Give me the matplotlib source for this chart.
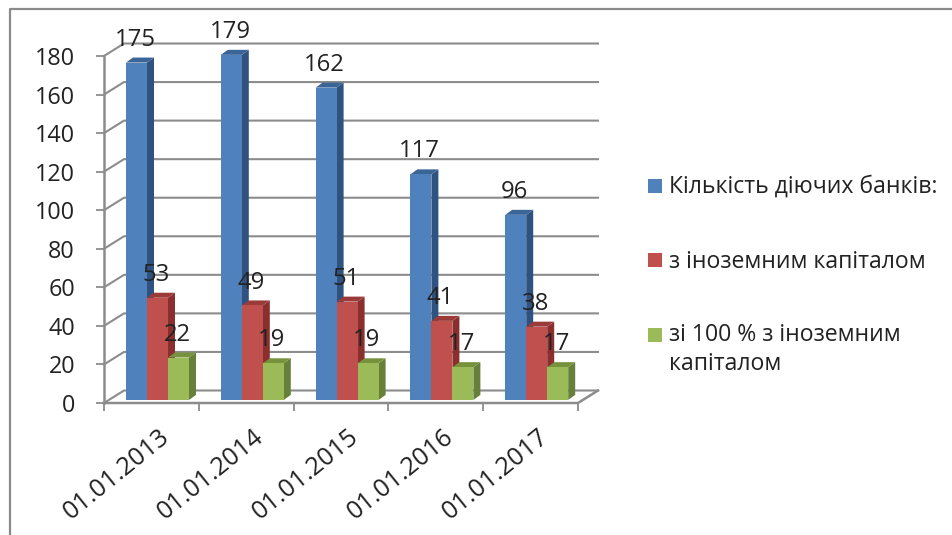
import numpy as np
import matplotlib
matplotlib.use("Agg")
import matplotlib.pyplot as plt
from matplotlib.patches import Polygon, Rectangle

plt.rcParams['font.family'] = ['Open Sans', 'DejaVu Sans']

dates = ['01.01.2013', '01.01.2014', '01.01.2015', '01.01.2016', '01.01.2017']
banks = [175, 179, 162, 117, 96]
foreign = [53, 49, 51, 41, 38]
full_foreign = [22, 19, 19, 17, 17]
names = ['Кількість діючих банків:', 'з іноземним капіталом', 'зі 100 % з іноземним\nкапіталом']
yticks = [0, 20, 40, 60, 80, 100, 120, 140, 160, 180]

W, H = 952, 535
# plot box in pixels
x0, x1, ytop, ybot = 104, 578, 56, 403
px_x = (x1 - x0) / 5.0
px_y = (ybot - ytop) / 180.0

front = ['#4F81BD', '#C0504D', '#9BBB59']
side = ['#2F5280', '#8A2F2D', '#66803A']
top = ['#3A6596', '#9A3B39', '#76923C']
grey = '#8C8C8C'
txt = '#222222'

fig = plt.figure(figsize=(W / 100, H / 100), dpi=100)
ax = fig.add_axes([x0 / W, 1 - ybot / H, (x1 - x0) / W, (ybot - ytop) / H])
ax.set_xlim(0, 5)
ax.set_ylim(0, 180)
ax.patch.set_alpha(0)
for s in ax.spines.values():
    s.set_visible(False)

# walls
wx = 20 / px_x
wy = 12.5 / px_y
for v in yticks:
    ax.plot([0, wx, 5 + wx], [v, v + wy, v + wy], color=grey, lw=1.5, clip_on=False, zorder=1)
ax.plot([0, 0], [0, 180], color=grey, lw=1.8, clip_on=False, zorder=1)
ax.plot([0, 5, 5 + wx], [0, 0, wy], color=grey, lw=1.8, clip_on=False, zorder=1)

ax.set_yticks(yticks)
ax.set_xticks(np.arange(6))
ax.set_xticklabels([])
ax.tick_params(axis='y', length=5.8, width=1.3, color=grey, labelsize=16.8, labelcolor=txt, pad=15)
ax.tick_params(axis='x', length=5.8, width=1.3, color=grey)

for i, d in enumerate(dates):
    ax.annotate(d, (i + 0.5, 0), xytext=(5, -15), textcoords='offset points', rotation=39,
                rotation_mode='anchor', ha='right', va='top', fontsize=18.2, color=txt)

# bars
bw = 21 / px_x
lift = 1.6
start = 22 / px_x
dx = 7 / px_x
dy = 5 / px_y
series = [banks, foreign, full_foreign]
for k, vals in enumerate(series):
    xs = np.arange(5) + start + k * bw
    for x, v in zip(xs, vals):
        y = v + lift
        ax.add_patch(Polygon([(x + bw, lift), (x + bw + dx, lift + dy), (x + bw + dx, y + dy), (x + bw, y)],
                             fc=side[k], ec='none', clip_on=False, zorder=2 + k))
        ax.add_patch(Polygon([(x, y), (x + dx, y + dy), (x + bw + dx, y + dy), (x + bw, y)],
                             fc=top[k], ec='none', clip_on=False, zorder=2 + k))
    ax.bar(xs, vals, bw, bottom=lift, align='edge', color=front[k], clip_on=False, zorder=2 + k)

for k, vals in enumerate(series):
    xs = np.arange(5) + start + k * bw + bw / 2
    for x, v in zip(xs, vals):
        ax.annotate(str(v), (x, v + lift), xytext=(-1, 16.5), textcoords='offset points',
                    ha='center', va='center', fontsize=17.2, color=txt, zorder=10,
                    annotation_clip=False)

# legend
leg_y = [186, 260, 335]
leg_base = [193, 268, 370]
for c, n, y, b in zip(front, names, leg_y, leg_base):
    fig.add_artist(Rectangle((648 / W, 1 - (y + 7) / H), 14 / W, 14 / H, fc=c, ec='none'))
    fig.text(669 / W, 1 - b / H, n, fontsize=16.6, color=txt, va='baseline', ha='left', linespacing=1.26)

# frame of the picture
fig.add_artist(plt.Line2D([9.5 / W, 9.5 / W, 1], [0, 1 - 9 / H, 1 - 9 / H], color='#8A8A8A', lw=1.6))

fig.savefig('out.png', dpi=100)
